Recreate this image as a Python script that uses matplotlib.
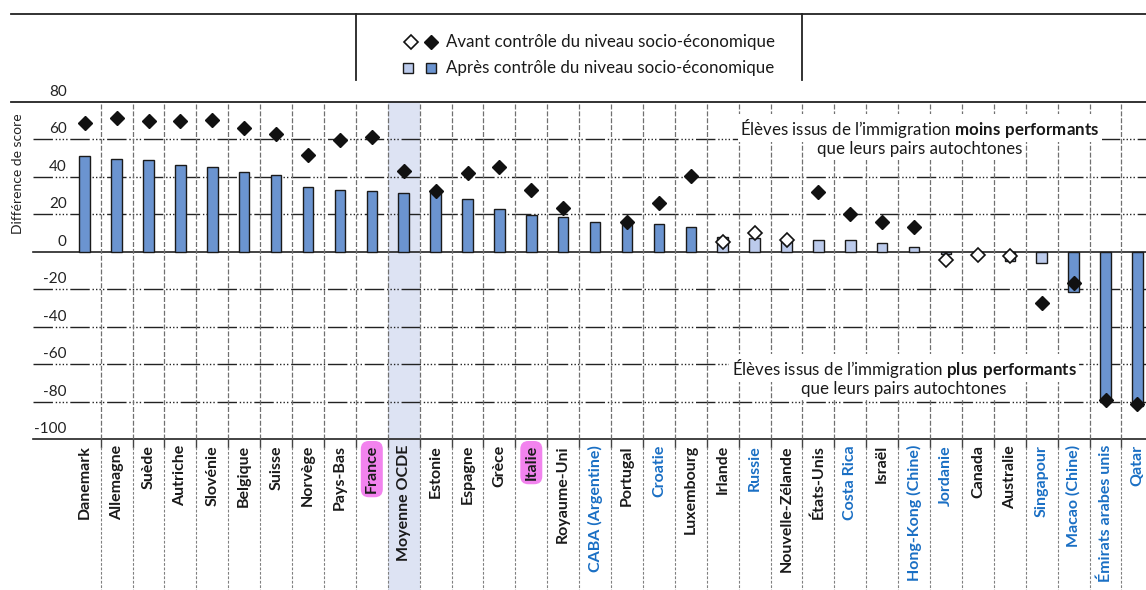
import matplotlib
matplotlib.use("Agg")
import matplotlib.pyplot as plt
import matplotlib.transforms as mtransforms
from matplotlib.patches import Rectangle
import numpy as np

plt.rcParams['font.family'] = ['Lato', 'DejaVu Sans']
plt.rcParams['mathtext.fontset'] = 'custom'
plt.rcParams['mathtext.rm'] = 'Lato'
plt.rcParams['mathtext.bf'] = 'Lato:bold'

countries = ["Danemark", "Allemagne", "Suède", "Autriche", "Slovénie", "Belgique", "Suisse",
             "Norvège", "Pays-Bas", "France", "Moyenne OCDE", "Estonie", "Espagne", "Grèce",
             "Italie", "Royaume-Uni", "CABA (Argentine)", "Portugal", "Croatie", "Luxembourg",
             "Irlande", "Russie", "Nouvelle-Zélande", "États-Unis", "Costa Rica", "Israël",
             "Hong-Kong (Chine)", "Jordanie", "Canada", "Australie", "Singapour",
             "Macao (Chine)", "Émirats arabes unis", "Qatar"]
after_ctrl = [51.0, 49.4, 48.7, 46.1, 45.2, 42.5, 40.9, 34.7, 33.1, 32.2, 31.1, 32.0, 27.9,
              22.6, 19.6, 18.5, 15.7, 15.7, 14.8, 13.2, 8.0, 7.1, 6.6, 6.1, 6.1, 4.5, 2.7,
              -1.2, 0.0, -4.8, -6.2, -21.7, -80.0, -82.1]
after_signif = [1, 1, 1, 1, 1, 1, 1, 1, 1, 1, 1, 1, 1, 1, 1, 1, 1, 1, 1, 1,
                0, 0, 0, 0, 0, 0, 0, 0, 0, 0, 0, 1, 1, 1]
before_ctrl = [68.6, 71.3, 69.5, 69.5, 70.4, 66.0, 62.8, 51.7, 59.6, 61.3, 43.2, 32.4, 42.0,
               45.0, 33.1, 23.1, np.nan, 16.0, 26.1, 40.5, 5.0, 10.1, 6.0, 31.7, 19.9, 15.7,
               13.3, -4.4, -1.8, -2.1, -27.5, -16.5, -79.1, -81.2]
before_signif = [1, 1, 1, 1, 1, 1, 1, 1, 1, 1, 1, 1, 1, 1, 1, 1, 1, 1, 1, 1,
                 0, 0, 0, 1, 1, 1, 1, 0, 0, 0, 1, 1, 1, 1]
partners = ["CABA (Argentine)", "Croatie", "Russie", "Costa Rica", "Hong-Kong (Chine)",
            "Jordanie", "Singapour", "Macao (Chine)", "Émirats arabes unis", "Qatar"]
highlighted = ["France", "Italie"]
average_label = "Moyenne OCDE"
yticks = [80, 60, 40, 20, 0, -20, -40, -60, -80, -100]

DARK = '#6b94d0'
LIGHT = '#bccbec'
SHADE = '#dde3f3'
BLUE_TXT = '#1a6fc4'
PINK = '#f283ee'

W, H = 1146, 590
fig = plt.figure(figsize=(W / 100, H / 100), dpi=100)
px_per_col = 31.9
x_left_px, x_right_px = 69, 1146
top_px = 101.7
px_per_unit = 1.875
ax = fig.add_axes([x_left_px / W, 0, (x_right_px - x_left_px) / W, 1 - top_px / H])
ax.set_axis_off()
ax.set_xlim((x_left_px - 84.7) / px_per_col, (x_right_px - 84.7) / px_per_col)
ymin = 80 - (H - top_px) / px_per_unit
ax.set_ylim(ymin, 80)

n = len(countries)
x = np.arange(n)
avg_i = countries.index(average_label)

# shading of the average column
ax.add_patch(Rectangle((avg_i - 0.5, ymin), 1, 80 - ymin, facecolor=SHADE,
                       edgecolor='none', zorder=0))

# horizontal grid lines
trans_h = mtransforms.blended_transform_factory(ax.transAxes, ax.transData)
gx0 = (33 - x_left_px) / (x_right_px - x_left_px)
for yv in yticks:
    if yv in (0, -100):
        ax.plot([gx0, 1], [yv, yv], transform=trans_h, color='#222222', lw=1.2,
                clip_on=False, zorder=1)
    elif yv == 80:
        pass
    else:
        ax.plot([gx0, 1], [yv, yv], transform=trans_h, color='#222222', lw=1.0,
                ls=(0, (14, 2, 1, 1.5, 1, 1.5, 1, 1.5, 1, 2)), clip_on=False, zorder=1)
    ax.text(-0.002, yv + 5.3, f"{yv}", transform=trans_h, ha='right', va='center',
            fontsize=11, color='#222222')
# top border line
tx0 = (11 - x_left_px) / (x_right_px - x_left_px)
ax.plot([tx0, 1], [80, 80], transform=trans_h, color='#222222', lw=1.3, clip_on=False, zorder=1)

# vertical separators
for i in range(n - 1):
    xs = i + 0.5
    ax.plot([xs, xs], [-100, 80], color='#707070', lw=0.9, ls=(0, (4, 1.5)), zorder=1)
    ax.plot([xs, xs], [-100, -104], color='#444444', lw=1.0, zorder=1)
    ax.plot([xs, xs], [-104, ymin], color='#808080', lw=0.8, ls=(0, (2.5, 1.5)), zorder=1)

# bars
colors = [DARK if s else LIGHT for s in after_signif]
ax.bar(x, after_ctrl, width=0.33, color=colors, edgecolor='#1a1a1a', linewidth=1.0, zorder=3)

# markers
b = np.array(before_ctrl, dtype=float)
sig = np.array(before_signif, dtype=bool)
ax.plot(x[sig], b[sig], ls='none', marker='D', ms=7.5, mfc='#111111', mec='#111111', zorder=4)
ax.plot(x[~sig], b[~sig], ls='none', marker='D', ms=7, mfc='white', mec='#111111',
        mew=1.2, zorder=4)

# category labels
lab_y = 80 - (445 - top_px) / px_per_unit
for i, c in enumerate(countries):
    col = BLUE_TXT if c in partners else '#1a1a1a'
    kw = {}
    if c in highlighted:
        kw['bbox'] = dict(boxstyle='round,pad=0.25,rounding_size=0.5', fc=PINK, ec='none')
    ax.text(i, lab_y, c, rotation=90, ha='center', va='top', fontsize=11.5,
            fontweight='bold', color=col, zorder=5, **kw)

# y label
ax.text((18 - x_left_px) / (x_right_px - x_left_px), 41.4, "Différence de score",
        transform=trans_h, rotation=90, ha='center', va='center', fontsize=10, color='#222222')

# annotations
def px_to_x(px):
    return (px - 84.7) / px_per_col

def py_to_y(py):
    return 80 - (py - top_px) / px_per_unit

ann_kw = dict(ha='center', va='center', fontsize=12.2, color='#1a1a1a', zorder=6,
              bbox=dict(boxstyle='square,pad=0.15', fc='white', ec='none'))
ax.text(px_to_x(920), py_to_y(128), "Élèves issus de l’immigration $\\bf{moins\\ performants}$", **ann_kw)
ax.text(px_to_x(920), py_to_y(149), "que leurs pairs autochtones", **ann_kw)
ax.text(px_to_x(904), py_to_y(368), "Élèves issus de l’immigration $\\bf{plus\\ performants}$", **ann_kw)
ax.text(px_to_x(904), py_to_y(389), "que leurs pairs autochtones", **ann_kw)

# legend box lines
ax.plot([tx0, 1], [py_to_y(14), py_to_y(14)], transform=trans_h, color='#222222', lw=1.3,
        clip_on=False)
for xs in (8.5, 22.5):
    ax.plot([xs, xs], [py_to_y(14), py_to_y(80)], color='#222222', lw=1.3, clip_on=False)

# legend entries
ax.plot([px_to_x(411)], [py_to_y(42.3)], marker='D', ms=7, mfc='white', mec='#111111',
        mew=1.2, clip_on=False)
ax.plot([px_to_x(431)], [py_to_y(42.3)], marker='D', ms=7.5, mfc='#111111', mec='#111111',
        clip_on=False)
sw = 10 / px_per_col
sh = 10 / px_per_unit
for cx, fc in ((407.7, LIGHT), (431.3, DARK)):
    ax.add_patch(Rectangle((px_to_x(cx) - sw / 2, py_to_y(68.3) - sh / 2), sw, sh, fc=fc,
                           ec='#1a1a1a', lw=1.0, clip_on=False))
ax.text(px_to_x(446), py_to_y(42.3), "Avant contrôle du niveau socio-économique",
        ha='left', va='center', fontsize=12.2, color='#1a1a1a', clip_on=False)
ax.text(px_to_x(446), py_to_y(68.3), "Après contrôle du niveau socio-économique",
        ha='left', va='center', fontsize=12.2, color='#1a1a1a', clip_on=False)

fig.savefig("out.png", dpi=100)
